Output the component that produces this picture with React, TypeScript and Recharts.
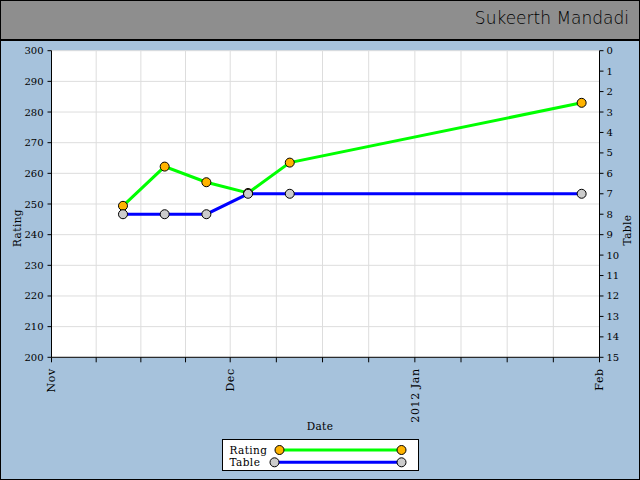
import React from 'react'
import { LineChart, Line, XAxis, YAxis, CartesianGrid } from 'recharts'

document.body.style.margin = '0'

// Weekly snapshots
const dates = ['2011-11-13', '2011-11-20', '2011-11-27', '2011-12-04', '2011-12-11', '2012-01-29']
const ratings = [249.4, 262.2, 257.1, 253.6, 263.5, 283]
const tables = [8, 8, 8, 7, 7, 7]

// Month boundaries on the x axis and their labels
const monthStarts = ['2011-11-01', '2011-12-01', '2012-01-01', '2012-02-01']
const monthLabels = ['Nov', 'Dec', '2012 Jan', 'Feb']

const ratingTicks = [200, 210, 220, 230, 240, 250, 260, 270, 280, 290, 300]
const tableTicks = [0, 1, 2, 3, 4, 5, 6, 7, 8, 9, 10, 11, 12, 13, 14, 15]

const ts = (s: string) => Date.parse(s + 'T00:00:00Z')

const data = dates.map((d, i) => ({ t: ts(d), rating: ratings[i], table: tables[i] }))

const monthTs = monthStarts.map(ts)
// major ticks at month starts, minor ones at the quarters in between
const xTicks: number[] = []
monthTs.forEach((m, i) => {
  xTicks.push(m)
  const next = monthTs[i + 1]
  if (next !== undefined) {
    for (let q = 1; q < 4; q++) xTicks.push(m + ((next - m) * q) / 4)
  }
})

const FONT = '"DejaVu Serif", serif'
const BG = '#a6c2dc'
const ORANGE = '#ffb300'
const GREY = '#cccccc'

function DateTick(props: any) {
  const { x, y, payload } = props
  const idx = monthTs.indexOf(payload.value)
  if (idx < 0) return null
  return (
    <text
      transform={`translate(${x},${y + 4}) rotate(-90)`}
      textAnchor="end"
      dy="0.35em"
      fontSize={11}
      letterSpacing={0.6}
      fontFamily={FONT}
      fill="#000"
    >
      {monthLabels[idx]}
    </text>
  )
}

// plain serif tick label for the two value axes
function ValueTick(props: any) {
  const { x, y, payload, textAnchor } = props
  return (
    <text x={x} y={y} dy="0.35em" textAnchor={textAnchor} fontSize={10} fontFamily={FONT} fill="#000">
      {payload.value}
    </text>
  )
}

function AxisTitle(props: any) {
  const { tx, ty, rot, text } = props
  return (
    <text
      x={tx}
      y={ty}
      textAnchor="middle"
      dominantBaseline="central"
      transform={rot ? `rotate(${rot} ${tx} ${ty})` : undefined}
      fontSize={10.5}
      letterSpacing={0.4}
      fontFamily={FONT}
      fill="#000"
    >
      {text}
    </text>
  )
}

export default function App() {
  return (
    <div
      style={{
        position: 'relative', width: 640, height: 480, background: BG,
        overflow: 'hidden', fontFamily: FONT,
      }}
    >
      <LineChart
        width={640}
        height={480}
        data={data}
        margin={{ top: 50.7, right: 0.5, left: 11.5, bottom: 40.7 }}
        style={{ position: 'absolute', left: 0, top: 0, fontFamily: FONT }}
      >
        <CartesianGrid yAxisId="left" stroke="#dddddd" fill="#fff" />
        <XAxis
          dataKey="t"
          type="number"
          domain={[monthTs[0], monthTs[monthTs.length - 1]]}
          ticks={xTicks}
          interval={0}
          tick={<DateTick />}
          tickSize={5}
          tickLine={{ stroke: '#000' }}
          axisLine={{ stroke: '#000' }}
          height={82}
          label={<AxisTitle tx={320} ty={426} text="Date" />}
        />
        <YAxis
          yAxisId="left"
          domain={[200, 300]}
          ticks={ratingTicks}
          interval={0}
          tick={<ValueTick />}
          tickSize={4}
          tickMargin={4}
          tickLine={{ stroke: '#000' }}
          axisLine={{ stroke: '#000' }}
          width={40}
          label={<AxisTitle tx={17} ty={228} rot={-90} text="Rating" />}
        />
        <YAxis
          yAxisId="right"
          orientation="right"
          domain={[0, 15]}
          reversed
          ticks={tableTicks}
          interval={0}
          tick={<ValueTick />}
          tickSize={4}
          tickMargin={3}
          tickLine={{ stroke: '#000' }}
          axisLine={{ stroke: '#000' }}
          width={40}
          label={<AxisTitle tx={627} ty={230} rot={-90} text="Table" />}
        />
        <Line
          yAxisId="left"
          dataKey="rating"
          stroke="#00ff00"
          strokeWidth={3}
          dot={{ r: 4.5, fill: ORANGE, stroke: '#000', strokeWidth: 1 }}
          activeDot={false}
          isAnimationActive={false}
        />
        <Line
          yAxisId="right"
          dataKey="table"
          stroke="#0000ff"
          strokeWidth={3}
          dot={{ r: 4.5, fill: GREY, stroke: '#000', strokeWidth: 1 }}
          activeDot={false}
          isAnimationActive={false}
        />
      </LineChart>

      {/* header band */}
      <div
        style={{
          position: 'absolute', left: 0, top: 0, width: 640, height: 41,
          background: '#8e8e8e', borderBottom: '2px solid #000', boxSizing: 'border-box',
        }}
      >
        <div
          style={{
            position: 'absolute', right: 11, top: 8, fontSize: 17,
            fontFamily: '"DejaVu Sans", sans-serif', fontWeight: 300, color: '#000',
          }}
        >
          Sukeerth Mandadi
        </div>
      </div>

      {/* legend */}
      <div
        style={{
          position: 'absolute', left: 221.5, top: 439, width: 197, height: 32,
          background: '#fff', border: '1px solid #000', boxSizing: 'border-box',
        }}
      >
        <svg width={195} height={30} style={{ position: 'absolute', left: 0, top: 0 }}>
          <text x={6.5} y={14} fontSize={10.5} letterSpacing={0.4} fontFamily={FONT} fill="#000">Rating</text>
          <line x1={56.5} y1={10} x2={178.5} y2={10} stroke="#00ff00" strokeWidth={3} />
          <circle cx={56.5} cy={10} r={4.5} fill={ORANGE} stroke="#000" />
          <circle cx={178.5} cy={10} r={4.5} fill={ORANGE} stroke="#000" />
          <text x={6.5} y={25.7} fontSize={10.5} letterSpacing={0.4} fontFamily={FONT} fill="#000">Table</text>
          <line x1={51.5} y1={22.3} x2={178.5} y2={22.3} stroke="#0000ff" strokeWidth={3} />
          <circle cx={51.5} cy={22.3} r={4.5} fill={GREY} stroke="#000" />
          <circle cx={178.5} cy={22.3} r={4.5} fill={GREY} stroke="#000" />
        </svg>
      </div>

      {/* outer frame */}
      <div
        style={{
          position: 'absolute', left: 0, top: 0, width: 640, height: 480,
          border: '1px solid #000', boxSizing: 'border-box', pointerEvents: 'none',
        }}
      />
    </div>
  )
}
